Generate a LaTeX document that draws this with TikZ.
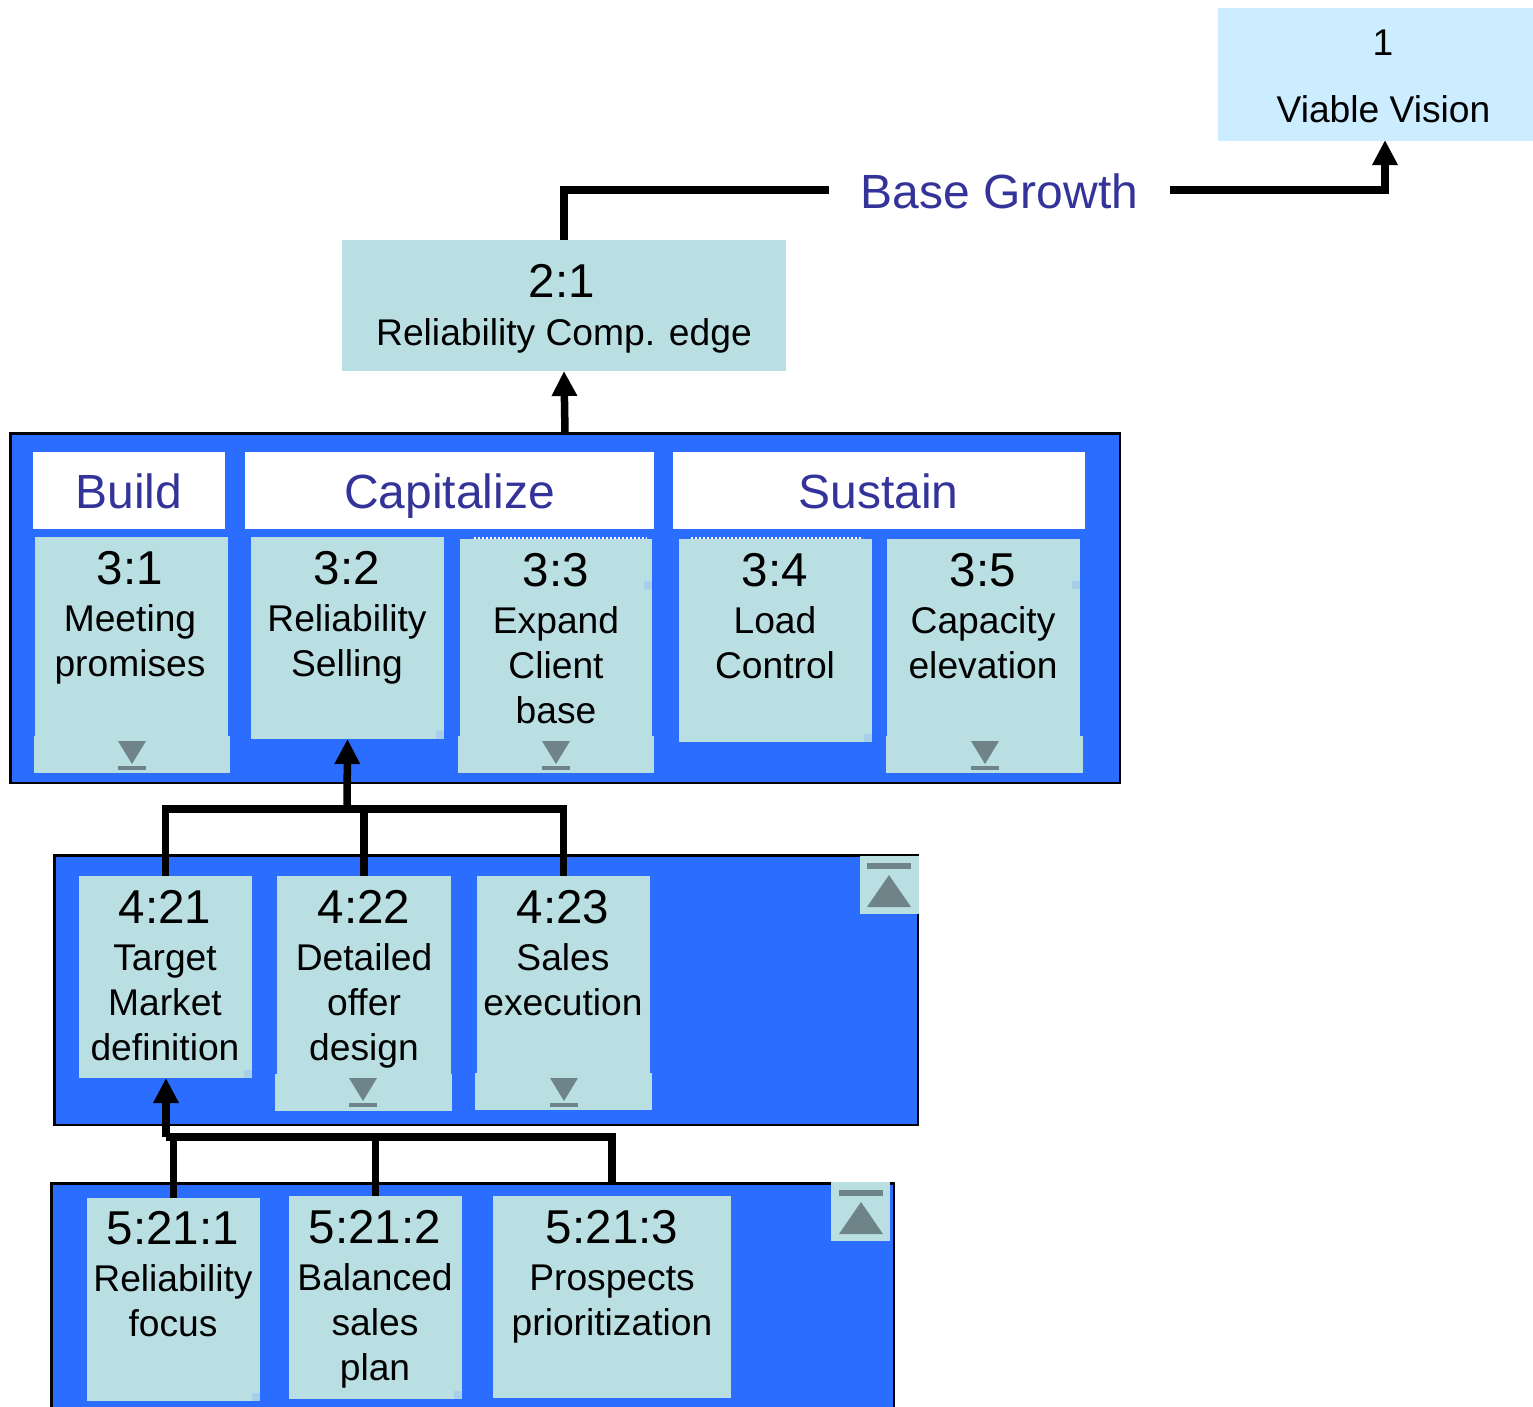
\documentclass[tikz,border=0pt]{standalone}
\usepackage{fontspec}
\setmainfont{Liberation Sans}
\usetikzlibrary{arrows.meta,calc}
\definecolor{panelblue}{HTML}{2A6DFF}
\definecolor{cardteal}{HTML}{BADFE3}
\definecolor{skyblue}{HTML}{CCECFF}
\definecolor{headink}{HTML}{333399}
\definecolor{btngrey}{HTML}{6F8488}
\definecolor{speck}{HTML}{A6CFEA}
\newcommand{\bnum}{\fontsize{47.5}{45}\selectfont\rule{0pt}{40pt}}
\newcommand{\btxt}{\fontsize{37.2}{45}\selectfont}
\makeatletter
\newcommand{\rectnode}[6]{%
  \pgfmathsetlengthmacro{\rn@w}{(#5)-(#3)}%
  \pgfmathsetlengthmacro{\rn@h}{(#6)-(#4)}%
  \pgfmathsetmacro{\rn@x}{((#3)+(#5))/2}%
  \pgfmathsetmacro{\rn@y}{((#4)+(#6))/2}%
  \node[#1,minimum width=\rn@w,minimum height=\rn@h] (#2) at (\rn@x,\rn@y) {};}
\newcommand{\cardtext}[4]{% name, xc, first baseline, text
  \pgfmathsetmacro{\rn@t}{(#3)-40}%
  \node[cardtext] (#1) at (#2,\rn@t) {#4};}
\newcommand{\downbtn}[2]{% xc, ytop
  \fill[btngrey] (#1-14,#2) -- (#1+14,#2) -- (#1,#2+23) -- cycle;
  \fill[btngrey] (#1-14,#2+24.5) rectangle (#1+14,#2+28.5);}
\newcommand{\upbtn}[2]{% xc, ytop
  \fill[btngrey] (#1-22,#2) rectangle (#1+22,#2+6);
  \fill[btngrey] (#1-22,#2+44) -- (#1+22,#2+44) -- (#1,#2+12) -- cycle;}
\newcommand{\specks}[2]{\fill[speck] (#1-8,#2-8) rectangle (#1,#2);}
\makeatother
\tikzset{
  plain/.style={rectangle,inner sep=0pt,outer sep=0pt},
  panel/.style={plain,fill=panelblue,draw=black,line width=2.8pt},
  card/.style={plain,fill=cardteal},
  headbox/.style={plain,fill=white},
  cardtext/.style={anchor=north,inner sep=0pt,outer sep=0pt,align=center,text=black,font=\btxt},
  headtext/.style={anchor=base,inner sep=0pt,outer sep=0pt,text=headink,font=\fontsize{48}{50}\selectfont},
  conn/.style={draw=black,line width=7.5pt,line join=miter},
  arrowconn/.style={conn,-{Triangle[width=24pt,length=25pt]}},
}
\begin{document}
\begin{tikzpicture}[x=1pt,y=-1pt]
\useasboundingbox (0,0) rectangle (1533,1406);
% panels
\rectnode{panel}{p1}{10.5}{433.5}{1120}{783}
\rectnode{panel}{p2}{54.5}{855.5}{918}{1125}
\rectnode{panel}{p3}{51.5}{1183.5}{894}{1460}
% top boxes
\rectnode{plain,fill=skyblue}{n1}{1218}{8}{1533}{141}
\node[cardtext,anchor=base] (t1a) at (1383,55) {1};
\node[cardtext,anchor=base] (t1b) at (1383.5,122) {Viable Vision};
\rectnode{card}{n21}{342}{240}{786}{371}
\node[cardtext,anchor=base] (t21a) at (562,297) {\bnum 2:1};
\node[cardtext,anchor=base] (t21b) at (564,345) {Reliability Comp. edge};
\node[headtext,text height=36pt,text depth=0pt,minimum width=341pt] (base) at (999.5,208) {Base Growth};
% headers
\rectnode{headbox}{hb}{33}{452}{225}{529}
\rectnode{headbox}{hc}{245}{452}{654}{529}
\rectnode{headbox}{hs}{673}{452}{1085}{529}
\node[headtext] (thb) at (129,508) {Build};
\node[headtext] (thc) at (449.5,508) {Capitalize};
\node[headtext] (ths) at (878.5,508) {Sustain};
% level 3
\draw[white,line width=2pt,dotted] (474,538) -- (647,538);
\draw[white,line width=2pt,dotted] (691,538) -- (863,538);
\rectnode{card}{n31}{35}{537}{228}{740}
\rectnode{card}{n31b}{34}{736}{230}{773}
\rectnode{card}{n32}{251}{537}{444}{739}
\rectnode{card}{n33}{460}{539}{652}{740}
\rectnode{card}{n33b}{458}{736}{654}{773}
\rectnode{card}{n34}{679}{539}{872}{742}
\rectnode{card}{n35}{887}{539}{1080}{740}
\rectnode{card}{n35b}{886}{736}{1083}{773}
\cardtext{t31}{130}{584}{\bnum 3:1\\[2pt]Meeting\\promises}
\cardtext{t32}{347}{584}{\bnum 3:2\\[2pt]Reliability\\Selling}
\cardtext{t33}{556}{586}{\bnum 3:3\\[2pt]Expand\\Client\\base}
\cardtext{t34}{775}{586}{\bnum 3:4\\[2pt]Load\\Control}
\cardtext{t35}{983}{586}{\bnum 3:5\\[2pt]Capacity\\elevation}
\downbtn{132}{741}\downbtn{556}{741}\downbtn{985}{741}
\specks{872}{742}\specks{444}{739}\specks{1080}{589}\specks{652}{589}
% level 4
\rectnode{card}{n421}{79}{876}{252}{1078}
\rectnode{card}{n422}{277}{876}{451}{1078}
\rectnode{card}{n422b}{275}{1074}{452}{1111}
\rectnode{card}{n423}{477}{876}{650}{1078}
\rectnode{card}{n423b}{475}{1073}{652}{1110}
\cardtext{t421}{165}{923}{\bnum 4:21\\[2pt]Target\\Market\\definition}
\cardtext{t422}{364}{923}{\bnum 4:22\\[2pt]Detailed\\offer\\design}
\cardtext{t423}{563}{923}{\bnum 4:23\\[2pt]Sales\\execution}
\downbtn{363}{1078}\downbtn{564}{1078}
\specks{252}{1078}
\rectnode{card}{b2}{860}{856}{919}{914}
\upbtn{889}{863}
% level 5
\rectnode{card}{n5211}{87}{1198}{260}{1401}
\rectnode{card}{n5212}{289}{1196}{462}{1399}
\rectnode{card}{n5213}{493}{1196}{731}{1398}
\cardtext{t5211}{173}{1244}{\bnum 5:21:1\\[2pt]Reliability\\focus}
\cardtext{t5212}{375}{1243}{\bnum 5:21:2\\[2pt]Balanced\\sales\\plan}
\cardtext{t5213}{612}{1243}{\bnum 5:21:3\\[2pt]Prospects\\prioritization}
\specks{260}{1401}\specks{462}{1399}
\rectnode{card}{b3}{831}{1182}{890}{1241}
\upbtn{861}{1190}
% connectors
\coordinate (busA) at (347,809);
\coordinate (busB) at (166,1137);
\draw[conn] (n21.north) |- (base.west);
\draw[arrowconn] (base.east) -| (1385,140);
\draw[arrowconn] (p1.north -| 565,0) -- (n21.south);
\draw[conn] (n421.north) |- (busA);
\draw[conn] (n422.north) |- (busA);
\draw[conn] (n423.north) |- (busA);
\draw[arrowconn] (busA) -- (n32.south);
\draw[conn] (n5211.north) |- (busB);
\draw[conn] (n5212.north) |- (busB);
\draw[conn] (n5213.north |- p3.north) |- (busB);
\draw[arrowconn] (busB) -- (n421.south -| busB);
\end{tikzpicture}
\end{document}
